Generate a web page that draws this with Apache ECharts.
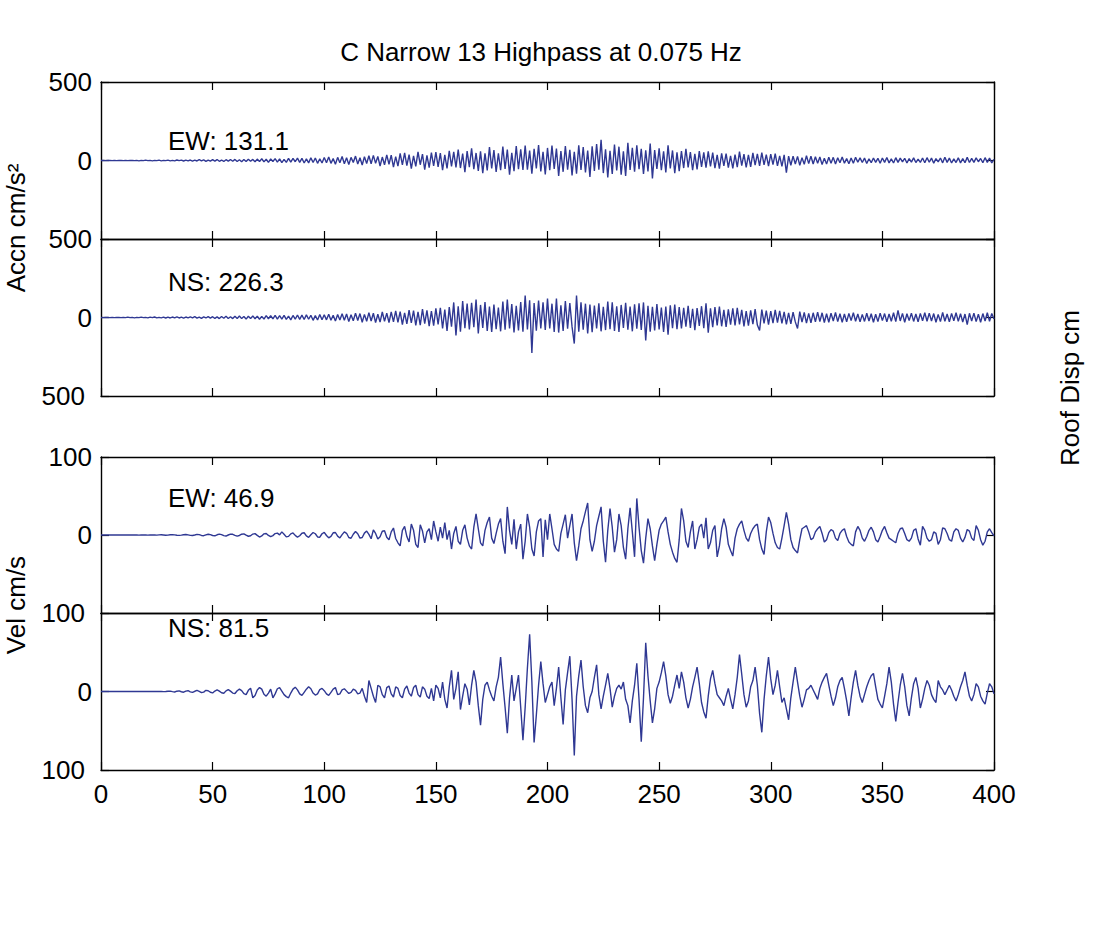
<!DOCTYPE html>
<html>
<head>
<meta charset="utf-8">
<script src="https://cdn.jsdelivr.net/npm/echarts@6/dist/echarts.min.js"></script>
<style>
  html, body { margin: 0; padding: 0; background: #fff; }
  #chart { width: 1094px; height: 928px; }
</style>
</head>
<body>
<div id="chart"></div>
<script>
// Record sampling step (s); sample i is at time i * dt
const dt = 1;

// Acceleration, EW component (cm/s^2)
const accEW = [
  0,1,-1,1,0,-1,1,-1,0,1,
  -1,1,-1,0,1,-1,1,-2,1,-1,
  2,-1,1,-2,1,-1,2,-2,1,-1,
  2,-2,1,-2,3,-1,2,-3,2,-2,
  3,-4,2,-3,5,-3,4,-5,3,-4,
  5,-4,6,-5,3,-6,5,-4,6,-5,
  7,-6,5,-8,6,-7,8,-5,7,-8,
  9,-7,11,-9,8,-12,10,-6,12,-10,
  11,-13,7,-12,14,-10,13,-8,15,-12,
  14,-16,10,-15,17,-13,16,-18,11,-16,
  19,-14,22,-18,12,-24,20,-15,25,-21,
  17,-26,20,-13,28,-22,18,-29,24,-19,
  30,-21,33,-18,26,-35,22,-27,36,-24,
  34,-42,25,-36,45,-28,48,-32,37,-52,
  30,-38,55,-27,41,-58,33,-45,50,-35,
  53,-40,47,-61,36,-51,62,-38,55,-44,
  70,-48,44,-75,60,-42,78,-55,48,-66,
  58,-80,46,-63,85,-50,66,-72,45,-62,
  88,-54,70,-90,49,-68,92,-56,71,-60,
  95,-58,63,-84,74,-50,99,-70,56,-88,
  80,-62,95,-54,76,-98,60,-72,92,-58,
  68,-95,56,-84,97,-60,86,-76,64,-105,
  90,-66,104,-58,131.1,-80,72,-108,62,-86,
  102,-64,88,-90,58,-98,112,-60,80,-72,
  96,-56,74,-86,65,-70,108,-115,66,-54,
  78,-62,58,-76,96,-50,64,-80,52,-68,
  60,-48,75,-44,54,-62,42,-56,60,-40,
  52,-45,58,-38,50,-48,36,-52,46,-34,
  44,-46,30,-50,38,-42,56,-32,40,-44,
  36,-40,48,-30,42,-34,50,-28,38,-36,
  40,-26,44,-34,30,-38,36,-77,28,-30,
  28,-22,26,-30,18,-24,30,-20,27,-22,
  24,-18,22,-26,15,-23,21,-17,20,-22,
  18,-14,22,-17,12,-21,16,-18,20,-11,
  17,-13,15,-19,11,-14,16,-12,14,-18,
  16,-12,19,-15,10,-16,18,-12,15,-9,
  14,-16,12,-10,17,-13,9,-12,16,-14,
  18,-11,15,-17,12,-9,16,-15,21,-12,
  15,-16,10,-13,17,-15,12,-14,20,-13,
  14,-12,17,-8,13,-14,18,-12,15,-16,
  8
];

// Acceleration, NS component (cm/s^2)
const accNS = [
  0,-1,1,0,-1,1,-1,1,0,-1,
  1,-1,2,-1,1,-2,1,-1,2,-1,
  1,-2,2,-1,3,-2,1,-2,2,-3,
  2,-3,3,-2,4,-3,2,-4,3,-2,
  4,-3,5,-4,3,-5,4,-3,6,-4,
  5,-6,4,-7,6,-5,8,-6,5,-7,
  8,-6,9,-7,6,-10,8,-7,10,-8,
  9,-11,7,-10,12,-8,11,-9,13,-10,
  12,-10,14,-12,9,-15,13,-11,16,-12,
  15,-13,17,-11,14,-18,12,-16,19,-14,
  18,-15,21,-17,14,-22,19,-16,24,-18,
  22,-26,17,-21,28,-19,25,-30,20,-24,
  31,-22,27,-33,21,-29,35,-24,28,-32,
  36,-28,42,-31,38,-45,30,-40,47,-35,
  44,-50,36,-48,53,-39,46,-55,41,-52,
  58,-44,62,-70,50,-85,66,-58,96,-115,
  72,-90,105,-68,88,-76,94,-62,115,-102,
  80,-66,98,-85,70,-92,82,-74,64,-88,
  102,-78,115,-70,86,-95,74,-82,98,-90,
  140,-76,110,-226.3,92,-84,108,-70,96,-80,
  120,-70,88,-92,120,-96,78,-85,104,-72,
  92,-60,-166,140,-90,96,-78,88,-102,82,
  -94,76,-70,90,-88,68,-80,102,-74,96,
  -86,72,-92,80,-66,94,-78,70,-88,84,
  -72,90,-80,96,-147,74,-90,68,-82,86,
  -76,64,-92,70,-109,78,-68,82,-74,66,
  -70,62,-58,74,-66,56,-80,60,-54,72,
  -68,90,-96,58,-62,66,-50,70,-56,48,
  -60,52,-46,58,-50,62,-44,48,-56,40,
  -52,46,-42,54,-48,-83,50,-38,44,-46,
  40,-36,48,-32,42,-38,36,-44,30,-40,
  34,-28,-70,38,-30,32,-36,26,-34,30,
  -28,34,-26,30,-32,24,-30,28,-22,32,
  -26,24,-30,22,-28,26,-20,30,-24,22,
  -28,20,-25,27,-22,24,-30,21,-26,28,
  -20,25,-28,22,-24,30,-26,45,-22,26,
  -30,24,-20,28,-25,22,-27,26,-21,30,
  -24,28,-22,25,-30,20,-26,32,-24,22,
  -28,26,-21,30,-25,24,-29,22,-45,27,
  -23,28,-26,21,-30,25,-22,30,-24,26,
  -10
];

// Velocity, EW component (cm/s)
const velEW = [
  0,0,0,0,0,0,0,0,0,0,
  0,0,0,0,0,0.1,0,-0.1,0,0.1,
  0,-0.2,0,0.2,0,-0.2,0.1,0.3,0,-0.3,
  -0.1,0.3,0.5,0.2,-0.3,-0.5,-0.1,0.4,0.6,0.1,
  -0.5,-0.7,0,0.8,0.5,-0.6,-0.9,0.2,1.0,0.4,
  -0.6,-1.0,0.3,1.2,0.5,-0.8,-1.3,0,1.1,0.9,
  -0.4,-1.4,-0.6,1.0,1.5,-0.2,-1.6,-1.0,1.2,1.8,
  -0.5,-2.6,-1.2,1.5,2.0,-0.6,-2.2,-0.8,1.8,2.4,
  0.2,4.0,1.0,-2.4,-1.8,1.4,2.6,-0.5,-2.8,-1.0,
  2.2,2.9,-1.2,-3.0,0.4,3.2,1.6,-2.5,-2.8,1.6,
  3.4,-0.6,-3.6,-1.8,2.8,3.2,-1.5,-3.8,0.5,4.0,
  2.2,-3.2,-4.2,1.0,4.5,1.6,-4.0,-3.2,2.4,5.0,
  0.8,-4.8,6.5,2.0,-5.2,-2.2,4.8,5.5,-3.0,-6.2,
  4.0,9.0,-4.5,-10.0,-14.0,6.0,11.0,-2.0,-9.0,14.0,
  6.0,-12.0,-16.0,13.0,5.0,-10.0,4.0,8.0,-6.0,18.0,
  4.0,-8.0,10.0,-4.0,16.0,-6.0,6.0,-18.0,2.0,11.0,
  -8.0,-12.0,6.0,13.0,-4.0,-14.0,-18.0,10.0,27.0,8.0,
  -10.0,-14.0,6.0,16.0,23.0,-4.0,-11.0,2.0,14.0,21.0,
  -8.0,-24.0,36.0,6.0,-12.0,20.0,-18.0,4.0,14.0,-31.0,
  -8.0,27.0,10.0,-18.0,-27.0,4.0,18.0,21.0,-28.0,19.5,
  -6.0,27.0,8.0,-12.0,-18.0,-21.0,2.0,14.0,26.0,-4.0,
  12.0,27.0,-10.0,-33.0,-14.0,8.0,18.0,30.0,41.0,-6.0,
  -21.0,-8.0,12.0,24.0,36.0,-8.0,-35.0,6.0,34.0,10.0,
  -22.0,-6.0,27.0,12.0,-16.0,-31.0,8.0,35.0,4.0,-28.0,
  46.9,10.0,-20.0,-36.0,-4.0,21.0,8.0,-14.0,-33.0,-12.0,
  6.0,14.0,18.0,23.0,4.0,-12.0,-22.0,-30.0,-35.0,-6.0,
  34.0,18.0,-8.0,-16.0,4.0,18.0,-18.0,-6.0,10.0,14.0,
  -4.0,22.0,-18.0,-10.0,6.0,12.0,-28.0,-14.0,8.0,21.0,
  10.0,-12.0,-20.0,-27.0,-4.0,8.0,14.0,18.0,6.0,-4.0,
  -8.0,2.0,8.0,12.0,14.0,-6.0,-18.0,-25.0,4.0,23.0,
  16.0,2.0,-10.0,-16.0,-18.0,-4.0,12.0,29.0,14.0,-6.0,
  -16.0,-20.0,-23.0,-6.0,8.0,10.0,12.0,4.0,-6.0,-4.0,
  4.0,8.0,11.0,2.0,-9.0,-6.0,3.0,7.0,5.0,-4.0,
  -7.0,2.0,6.0,8.0,-2.0,-9.0,-12.0,-14.0,4.0,11.0,
  6.0,-4.0,-8.0,-2.0,6.0,10.0,4.0,-6.0,-9.0,-2.0,
  6.0,11.0,3.0,-4.0,-6.0,-8.0,-10.0,2.0,8.0,9.0,
  2.0,-6.0,-8.0,-4.0,6.0,8.0,-5.0,-13.0,11.0,6.0,
  -4.0,-8.0,-6.0,4.0,2.0,-12.0,-6.0,9.0,8.0,2.0,
  -6.0,-8.0,4.0,8.0,6.0,-4.0,-9.0,-3.0,7.0,5.0,
  -4.0,-7.0,12.0,6.0,-6.0,-13.0,-8.0,4.0,8.0,3.0,
  -1
];

// Velocity, NS component (cm/s)
const velNS = [
  0,0,0,0,0,0,0,0,0,0,
  0,0,0,0,0,0,0,0,0,0,
  0,0,0,0,0,0,0.1,0,-0.1,0,
  0.3,0.5,-0.2,-0.6,0.4,0.8,-0.3,-0.9,0.5,1.0,
  -0.4,-1.2,0.3,1.4,0.2,-1.3,-0.8,1.5,1.0,-1.0,
  -1.8,0.6,2.0,0.4,-1.6,-2.2,0.8,2.4,0.5,-2.0,
  -2.6,1.0,3.0,1.2,-2.8,-4.0,1.5,4.2,-8.0,-5.0,
  2.0,5.0,3.0,-3.5,-6.0,-2.0,3.0,-8.0,-3.0,3.5,
  5.0,0.5,-4.0,-6.5,-8.0,-2.0,3.0,5.5,2.0,-3.0,
  -5.0,-1.0,3.0,6.0,3.5,-2.0,-4.5,-3.0,2.5,4.0,
  1.0,-3.0,-5.0,-1.0,3.0,5.0,-4.0,-3.0,2.0,3.5,
  0.5,-2.5,-1.0,3.0,1.5,-3.0,-2.0,4.0,-6.0,-14.0,
  14.0,4.0,-6.0,-14.0,8.0,6.0,-4.0,-8.0,5.0,7.0,
  -3.0,-7.0,6.0,4.0,-5.0,-8.0,3.0,7.0,-2.0,-6.0,
  5.0,8.0,-4.0,-7.0,6.0,3.0,-6.0,-9.0,4.0,-12.0,
  8.0,4.0,-8.0,12.0,-10.0,-21.0,6.0,27.0,-10.0,4.0,
  25.0,-23.0,-6.0,10.0,3.0,-17.0,8.0,27.0,12.0,-18.0,
  -43.0,-10.0,8.0,12.0,2.0,-6.0,-12.0,6.0,18.0,44.0,
  10.0,-20.0,-53.0,-8.0,21.0,-12.0,4.0,21.0,-20.0,-62.0,
  -20.0,30.0,73.0,12.0,-65.0,-30.0,8.0,38.0,10.0,-14.0,
  -4.0,6.0,12.0,-18.0,4.0,31.0,-8.0,-42.0,2.0,24.0,
  45.0,-10.0,-81.5,-6.0,20.0,40.0,6.0,-18.0,-27.0,-8.0,
  0.0,18.0,34.0,-4.0,-22.0,-6.0,8.0,23.0,4.0,-20.0,
  -6.0,4.0,8.0,3.0,12.0,-10.0,-18.0,-40.0,-12.0,8.0,
  36.0,-10.0,-64.0,-8.0,62.0,20.0,-12.0,-40.0,-22.0,4.0,
  12.0,24.0,38.0,20.0,-4.0,-15.0,-6.0,8.0,21.0,4.0,
  25.0,12.0,-8.0,-21.0,-10.0,6.0,18.0,31.0,10.0,-14.0,
  -26.0,-34.0,-6.0,16.0,27.0,10.0,-4.0,-8.0,-12.0,-18.0,
  -6.0,4.0,-10.0,-22.0,-4.0,18.0,47.0,22.0,-4.0,-20.0,
  -12.0,6.0,14.0,31.0,8.0,-28.0,-52.0,-10.0,20.0,44.0,
  16.0,-4.0,8.0,27.0,6.0,-14.0,-8.0,-22.0,-36.0,-8.0,
  12.0,31.0,12.0,-6.0,-20.0,-10.0,2.0,4.0,8.0,2.0,
  -4.0,-10.0,4.0,12.0,18.0,23.0,8.0,-6.0,-18.0,-8.0,
  6.0,14.0,18.0,4.0,-12.0,-31.0,-8.0,12.0,27.0,8.0,
  -6.0,-14.0,-4.0,6.0,14.0,20.0,23.0,6.0,-10.0,-16.0,
  -21.0,-6.0,10.0,31.0,12.0,-16.0,-38.0,-14.0,8.0,23.0,
  6.0,-18.0,-31.0,-8.0,10.0,18.0,4.0,-21.0,-10.0,4.0,
  14.0,8.0,-4.0,-10.0,-14.0,14.0,6.0,2.0,-4.0,2.0,
  8.0,2.0,-6.0,-12.0,-4.0,6.0,14.0,25.0,8.0,-6.0,
  -12.0,-4.0,10.0,6.0,-6.0,-12.0,-16.0,-2.0,10.0,6.0,
  -3
];

// Panel captions and axis texts
const titleText = 'C Narrow 13 Highpass at 0.075 Hz';
const accName = 'Accn cm/s\u00B2';
const velName = 'Vel cm/s';
const dispName = 'Roof Disp cm';
const timeRange = [0, 400];
const timeStep = 50;
const accRange = [-500, 500];
const velRange = [-100, 100];

const FONT = '"Liberation Sans", Arial, Helvetica, sans-serif';
const FS = 26;
const LINE = '#2f3893';

function peak(arr) {
  return arr.reduce((m, v) => Math.max(m, Math.abs(v)), 0);
}
function toPairs(arr) {
  return arr.map((v, i) => [i * dt, v]);
}

// Panel frames (px)
const L = 101, W = 893;
const panels = [
  { top: 82,  h: 157, data: accEW, range: accRange, tag: 'EW', showMin: false, showMax: true  },
  { top: 239, h: 157, data: accNS, range: accRange, tag: 'NS', showMin: true,  showMax: true  },
  { top: 457, h: 156, data: velEW, range: velRange, tag: 'EW', showMin: true,  showMax: true  },
  { top: 613, h: 157, data: velNS, range: velRange, tag: 'NS', showMin: true,  showMax: false }
];
const captionY = [141, 282, 498, 628];

const grid = [], xAxis = [], yAxis = [], series = [], graphic = [];

const tickStyle = { show: true, inside: true, length: 8, lineStyle: { color: '#000', width: 1.2 } };
const lineStyle = { show: true, onZero: false, lineStyle: { color: '#000', width: 1.4 } };

panels.forEach((p, k) => {
  grid.push({ left: L, top: p.top, width: W, height: p.h });
  const last = k === panels.length - 1;
  // bottom time axis
  xAxis.push({
    gridIndex: k, type: 'value', position: 'bottom',
    min: timeRange[0], max: timeRange[1], interval: timeStep,
    axisLine: lineStyle, axisTick: tickStyle, splitLine: { show: false },
    axisLabel: {
      show: last, color: '#000', fontSize: FS, fontFamily: FONT, margin: 11,
      showMinLabel: true, showMaxLabel: true
    }
  });
  // top time axis (frame + ticks)
  xAxis.push({
    gridIndex: k, type: 'value', position: 'top',
    min: timeRange[0], max: timeRange[1], interval: timeStep,
    axisLine: lineStyle, axisTick: tickStyle, splitLine: { show: false },
    axisLabel: { show: false }
  });
  const step = p.range[1];
  yAxis.push({
    gridIndex: k, type: 'value', position: 'left',
    min: p.range[0], max: p.range[1], interval: step,
    axisLine: lineStyle, axisTick: tickStyle, splitLine: { show: false },
    axisLabel: {
      color: '#000', fontSize: FS, fontFamily: FONT, margin: 9,
      showMinLabel: p.showMin, showMaxLabel: p.showMax,
      formatter: v => v < 0 ? '{n|' + (-v) + '}' : String(v),
      rich: { n: { color: '#000', fontSize: FS, fontFamily: FONT, padding: [0, 7, 0, 0] } }
    }
  });
  yAxis.push({
    gridIndex: k, type: 'value', position: 'right',
    min: p.range[0], max: p.range[1], interval: step,
    axisLine: lineStyle, axisTick: tickStyle, splitLine: { show: false },
    axisLabel: { show: false }
  });
  series.push({
    type: 'line', xAxisIndex: 2 * k, yAxisIndex: 2 * k,
    data: toPairs(p.data), showSymbol: false, symbol: 'none',
    sampling: null, animation: false, silent: true,
    lineStyle: { color: LINE, width: 1.4 }
  });
  graphic.push({
    type: 'text', x: 168, y: captionY[k],
    style: {
      text: p.tag + ': ' + peak(p.data).toFixed(1),
      fill: '#000', font: FS + 'px ' + FONT,
      textAlign: 'left', textVerticalAlign: 'middle'
    }
  });
});

graphic.push(
  { type: 'text', x: 541, y: 52,
    style: { text: titleText, fill: '#000', font: FS + 'px ' + FONT, textAlign: 'center', textVerticalAlign: 'middle' } },
  { type: 'text', x: 16, y: 228, rotation: Math.PI / 2,
    style: { text: accName, fill: '#000', font: FS + 'px ' + FONT, textAlign: 'center', textVerticalAlign: 'middle' } },
  { type: 'text', x: 16, y: 605, rotation: Math.PI / 2,
    style: { text: velName, fill: '#000', font: FS + 'px ' + FONT, textAlign: 'center', textVerticalAlign: 'middle' } },
  { type: 'text', x: 1070, y: 388, rotation: Math.PI / 2,
    style: { text: dispName, fill: '#000', font: FS + 'px ' + FONT, textAlign: 'center', textVerticalAlign: 'middle' } }
);

const chart = echarts.init(document.getElementById('chart'), null, { renderer: 'svg' });
chart.setOption({
  backgroundColor: '#fff',
  animation: false,
  grid, xAxis, yAxis, series, graphic
});
</script>
</body>
</html>
